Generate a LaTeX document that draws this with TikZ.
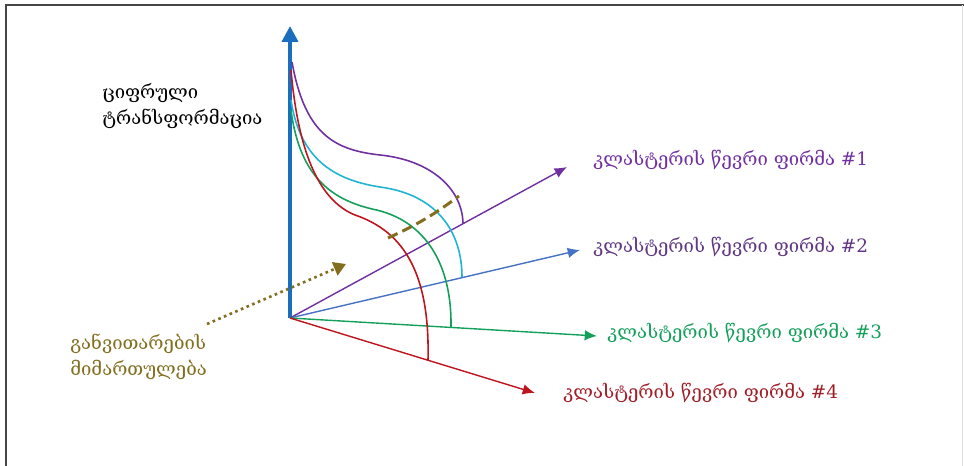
\documentclass[tikz,border=0pt]{standalone}
\usepackage{fontspec}
\setmainfont{DejaVu Serif}
\usetikzlibrary{arrows.meta,positioning}
\definecolor{framegray}{RGB}{70,70,70}
\definecolor{axisblue}{RGB}{25,110,190}
\definecolor{firmpurple}{RGB}{112,48,160}
\definecolor{firmsteel}{RGB}{70,114,196}
\definecolor{firmcyan}{RGB}{30,180,210}
\definecolor{firmgreen}{RGB}{20,160,90}
\definecolor{firmred}{RGB}{190,20,30}
\definecolor{labelplum}{RGB}{95,55,130}
\definecolor{labelred}{RGB}{160,30,40}
\definecolor{olive}{RGB}{130,110,30}

\begin{document}
\begin{tikzpicture}[
    x=0.02cm, y=-0.02cm,
    lbl/.style={font=\fontsize{10.5}{15}\selectfont, anchor=west, inner sep=0pt, align=left},
    ray/.style={line width=0.8pt, -{Latex[length=7pt,width=6pt]}},
    wave/.style={line width=0.9pt}
  ]
  \useasboundingbox (0,0) rectangle (964,466);
  \draw[line width=1.6pt, framegray] (6,466) -- (6,5) -- (964,5);
  \draw[line width=0.4pt, black!12] (962,5) -- (962,466);

  % axes
  \coordinate (O) at (290,318);
  \coordinate (top) at (290,26);
  \coordinate (t1) at (567,167);
  \coordinate (t2) at (580,250);
  \coordinate (t3) at (597,336);
  \coordinate (t4) at (535,393);
  \draw[axisblue, line width=2.2pt, -{Triangle[length=9pt,width=9pt]}] (O) -- (top);
  \draw[ray, firmpurple] (O) -- (t1);
  \draw[ray, firmsteel] (O) -- (t2);
  \draw[ray, firmgreen] (O) -- (t3);
  \draw[ray, firmred] (O) -- (t4);

  % labels
  \node[lbl, text=firmpurple] (f1) at (593,160) {კლასტერის წევრი ფირმა \#1};
  \node[lbl, text=labelplum] (f2) at (593,247) {კლასტერის წევრი ფირმა \#2};
  \node[lbl, text=firmgreen] (f3) at (607,333) {კლასტერის წევრი ფირმა \#3};
  \node[lbl, text=labelred] (f4) at (563,393) {კლასტერის წევრი ფირმა \#4};
  \node[lbl, text=black] (digital) at (102,106) {ციფრული\\ტრანსფორმაცია};
  \node[lbl, text=olive] (direction) at (70,357) {განვითარების\\მიმართულება};

  % paths of the firms
  \coordinate (s1) at (292,62);
  \coordinate (s2) at (291,100);
  \coordinate (s3) at (291,110);
  \coordinate (s4) at (291,70);
  \coordinate (e1) at (463,223);
  \coordinate (e2) at (462,277);
  \coordinate (e3) at (451,327);
  \coordinate (e4) at (428,360);
  \draw[wave, firmpurple] (s1) .. controls (305,135) and (335,150) .. (380,155)
    .. controls (430,160) and (462,188) .. (e1);
  \draw[wave, firmcyan] (s2) .. controls (300,160) and (335,180) .. (380,187)
    .. controls (440,195) and (462,235) .. (e2);
  \draw[wave, firmgreen] (s3) .. controls (300,180) and (335,200) .. (372,209)
    .. controls (428,220) and (452,268) .. (e3);
  \draw[wave, firmred] (s4) .. controls (298,150) and (318,200) .. (355,215)
    .. controls (405,232) and (430,275) .. (e4);

  % direction
  \coordinate (d1) at (388,238);
  \coordinate (d2) at (459,196);
  \draw[olive, line width=1.7pt, dash pattern=on 6pt off 3pt] (d1) to[bend right=6] (d2);
  \coordinate (p1) at (207,324);
  \coordinate (p2) at (346,264);
  \draw[olive, line width=1.5pt, dotted, -{Triangle[length=7pt,width=8pt]}] (p1) -- (p2);
\end{tikzpicture}
\end{document}
